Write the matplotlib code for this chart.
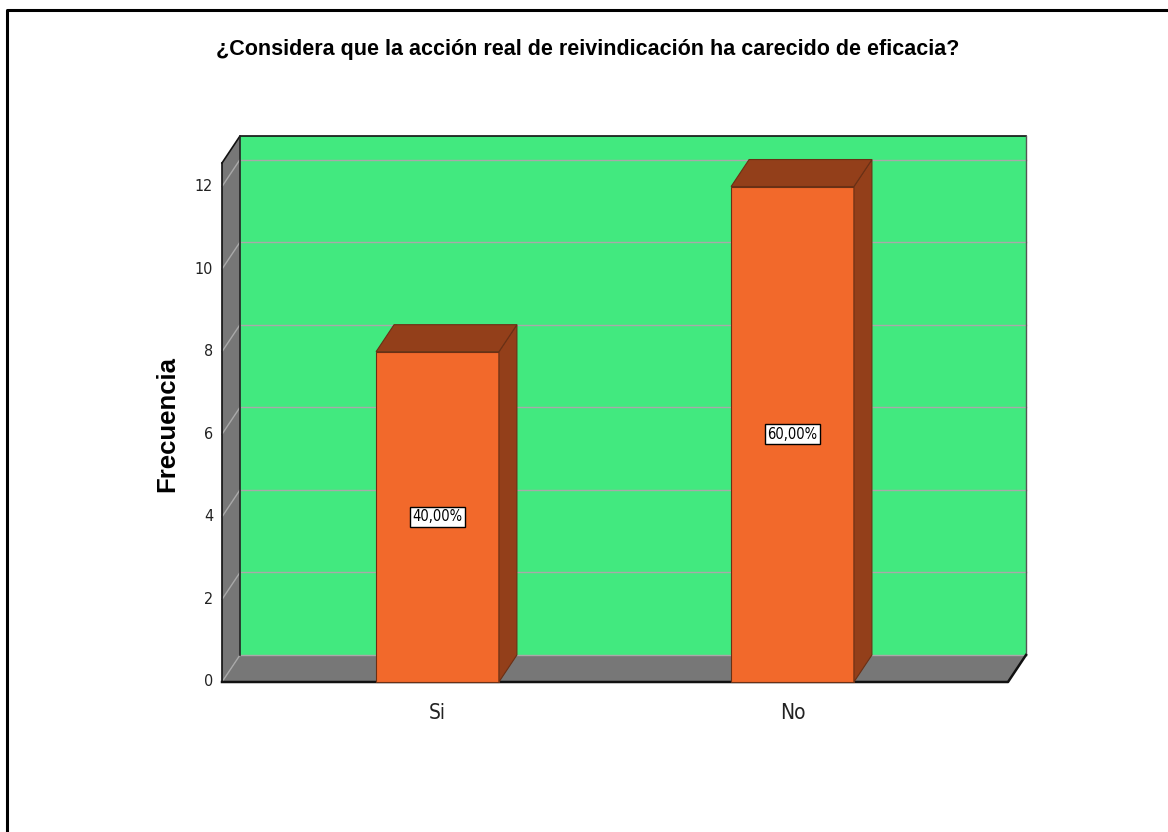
import matplotlib
matplotlib.use("Agg")
import matplotlib.pyplot as plt
from matplotlib.patches import Polygon, Rectangle
from matplotlib.lines import Line2D

# data
categories = ["Si", "No"]
frequencies = [8, 12]
y_ticks = [0, 2, 4, 6, 8, 10, 12]
title = "¿Considera que la acción real de reivindicación ha carecido de eficacia?"
y_label = "Frecuencia"

# styles
WALL_GREEN = "#42E97F"
WALL_GRAY = "#777777"
BAR_FRONT = "#F2692B"
BAR_DARK = "#933F1A"
GRID = "#A9A9A9"
NARROW = dict(family=["DejaVu Sans"], stretch="condensed")
BOLD = ["Liberation Sans", "DejaVu Sans"]

XMIN, XMAX = -0.607, 1.607
YMAX = 12.57
DX, DY = 0.0507, 0.654  # depth offset, in data units
BAR_W = 0.346

fig = plt.figure(figsize=(11.68, 8.32), dpi=100)
ax = fig.add_axes([222 / 1168, 150 / 832, 786 / 1168, 519 / 832])
ax.set_xlim(XMIN, XMAX)
ax.set_ylim(0, YMAX)
ax.axis("off")


def poly(points, fc, ec="none", lw=0.0, z=1):
    ax.add_patch(Polygon(points, closed=True, facecolor=fc, edgecolor=ec,
                         linewidth=lw, zorder=z, clip_on=False))


def line(xs, ys, color, lw, z=2):
    ax.add_line(Line2D(xs, ys, color=color, linewidth=lw, zorder=z, clip_on=False))


# back wall, left wall and floor
poly([(XMIN + DX, DY), (XMAX + DX, DY), (XMAX + DX, YMAX + DY), (XMIN + DX, YMAX + DY)],
     WALL_GREEN, z=1)
poly([(XMIN, 0), (XMIN + DX, DY), (XMIN + DX, YMAX + DY), (XMIN, YMAX)], WALL_GRAY, z=1)
poly([(XMIN, 0), (XMAX, 0), (XMAX + DX, DY), (XMIN + DX, DY)], WALL_GRAY, z=1)

# grid lines on back and left wall
for v in y_ticks:
    if v > 0:
        line([XMIN + DX, XMAX + DX], [v + DY, v + DY], GRID, 1.0)
    line([XMIN, XMIN + DX], [v, v + DY], GRID, 1.0)
line([XMIN + DX, XMAX + DX], [DY, DY], GRID, 1.0)

# outlines
line([XMIN, XMIN], [0, YMAX], "#111111", 1.2, z=2.5)
line([XMIN, XMIN + DX, XMAX + DX], [YMAX, YMAX + DY, YMAX + DY], "#111111", 1.2, z=2.5)
line([XMIN + DX, XMIN + DX], [DY, YMAX + DY], "#222222", 1.2, z=2.5)
line([XMAX + DX, XMAX + DX], [DY, YMAX + DY], "#555555", 1.0, z=2.5)
line([XMIN, XMAX, XMAX + DX], [0, 0, DY], "#111111", 1.8, z=2.5)

# bars
total = sum(frequencies)
for i, v in enumerate(frequencies):
    x0, x1 = i - BAR_W / 2, i + BAR_W / 2
    ax.add_patch(Rectangle((x0, 0), BAR_W, v, facecolor=BAR_FRONT, edgecolor="#6A3015",
                           linewidth=0.8, zorder=3, clip_on=False))
    poly([(x1, 0), (x1 + DX, DY), (x1 + DX, v + DY), (x1, v)], BAR_DARK, "#6A3015", 0.8, z=3)
    poly([(x0, v), (x1, v), (x1 + DX, v + DY), (x0 + DX, v + DY)], BAR_DARK, "#6A3015", 0.8, z=3)
    pct = f"{v / total * 100:.2f}%".replace(".", ",")
    ax.text(i, v / 2, pct, ha="center", va="center", fontsize=10.5, zorder=5, **NARROW,
            bbox=dict(boxstyle="square,pad=0.18", facecolor="white",
                      edgecolor="black", linewidth=1.0))
    ax.annotate(categories[i], (i, 0), xytext=(0, -22), textcoords="offset points",
                ha="center", va="center", fontsize=15, color="#222222", **NARROW)

# y tick labels
for v in y_ticks:
    ax.annotate(str(v), (XMIN, v), xytext=(-6.5, 0), textcoords="offset points",
                ha="right", va="center", fontsize=11.5, color="#222222", **NARROW)

fig.text(588 / 1168, 1 - 50 / 832, title, ha="center", va="center",
         fontsize=15.5, fontweight="bold", family=BOLD)
fig.text(167 / 1168, 1 - 424 / 832, y_label, ha="center", va="center", rotation=90,
         fontsize=18.5, fontweight="bold", family=BOLD)

# screenshot frame (left and top edges only)
fig.add_artist(Line2D([7 / 1168, 7 / 1168, 1.0], [0.0, 1 - 10 / 832, 1 - 10 / 832],
                      transform=fig.transFigure, color="black", linewidth=2.2))

fig.savefig("out.png", dpi=100)
